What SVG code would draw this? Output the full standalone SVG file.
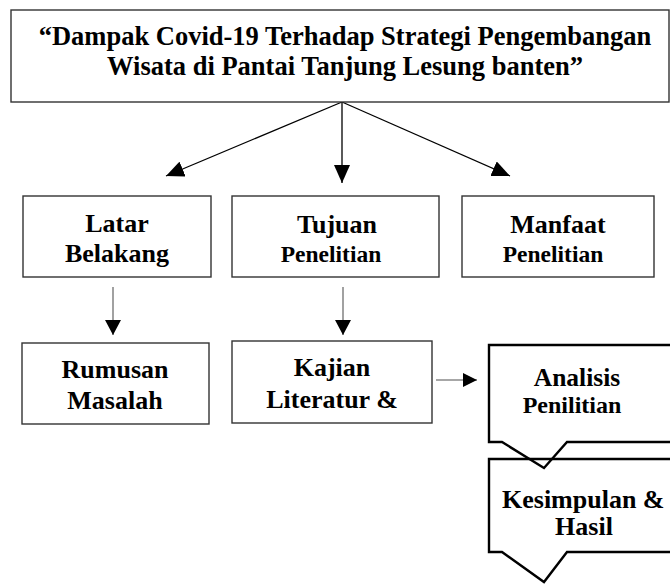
<svg xmlns="http://www.w3.org/2000/svg" width="670" height="584" viewBox="0 0 670 584">
<style>
  .t { font-family: "Liberation Serif", "Times New Roman", serif; font-weight: bold; fill: #000; text-anchor: middle; }
  .f26 { font-size: 26px; }
  .f24 { font-size: 23.5px; }
  .box { fill: #fff; stroke: #333; stroke-width: 1.4; }
  .call { fill: none; stroke: #000; stroke-width: 2.4; stroke-linejoin: miter; }
  .blk { stroke: #000; stroke-width: 1.3; fill: none; }
  .gry { stroke: #8a8a8a; stroke-width: 1.6; fill: none; }
</style>
<defs>
  <marker id="ahBig" viewBox="0 0 18 16" refX="18" refY="8" markerWidth="18" markerHeight="16" markerUnits="userSpaceOnUse" orient="auto">
    <path d="M0,0 L18,8 L0,16 z" fill="#000"/>
  </marker>
  <marker id="ahSm" viewBox="0 0 15 16" refX="15" refY="8" markerWidth="15" markerHeight="16" markerUnits="userSpaceOnUse" orient="auto">
    <path d="M0,0 L15,8 L0,16 z" fill="#000"/>
  </marker>
  <marker id="ahH" viewBox="0 0 14 14" refX="14" refY="7" markerWidth="14" markerHeight="14" markerUnits="userSpaceOnUse" orient="auto">
    <path d="M0,0 L14,7 L0,14 z" fill="#000"/>
  </marker>
</defs>
<rect width="670" height="584" fill="#fff"/>

<g id="connectors">
  <line class="blk" x1="342" y1="102" x2="166" y2="176" marker-end="url(#ahBig)"/>
  <line class="blk" x1="342" y1="102" x2="342" y2="183" marker-end="url(#ahBig)"/>
  <line class="blk" x1="342" y1="102" x2="510" y2="176" marker-end="url(#ahBig)"/>
  <line class="gry" x1="113" y1="287" x2="113" y2="335" marker-end="url(#ahSm)"/>
  <line class="gry" x1="343" y1="287" x2="343" y2="335" marker-end="url(#ahSm)"/>
  <line class="gry" x1="436" y1="380" x2="477" y2="380" marker-end="url(#ahH)"/>
</g>

<g id="title">
  <rect class="box" x="11" y="10" width="658" height="92"/>
  <text class="t" x="345" y="45" font-size="26.5">“Dampak Covid-19 Terhadap Strategi Pengembangan</text>
  <text class="t" x="345" y="75" font-size="26.5">Wisata di Pantai Tanjung Lesung banten”</text>
</g>

<g id="latar">
  <rect class="box" x="23" y="196" width="188" height="81"/>
  <text class="t f26" x="117" y="232">Latar</text>
  <text class="t f26" x="117" y="262">Belakang</text>
</g>

<g id="tujuan">
  <rect class="box" x="232" y="196" width="207" height="81"/>
  <text class="t f26" x="337" y="233">Tujuan</text>
  <text class="t f24" x="331" y="262">Penelitian</text>
</g>

<g id="manfaat">
  <rect class="box" x="462" y="196" width="192" height="81"/>
  <text class="t f26" x="558" y="233">Manfaat</text>
  <text class="t f24" x="553" y="262">Penelitian</text>
</g>

<g id="rumusan">
  <rect class="box" x="22" y="343" width="187" height="81"/>
  <text class="t f26" x="115" y="378">Rumusan</text>
  <text class="t f26" x="115" y="409">Masalah</text>
</g>

<g id="kajian">
  <rect class="box" x="232" y="341" width="200" height="82"/>
  <text class="t f26" x="332" y="376">Kajian</text>
  <text class="t f26" x="332" y="408">Literatur &amp;</text>
</g>

<g id="kesimpulan">
  <path class="call" d="M489,459 H673 V552 H567 L544,582 L502,552 H489 Z"/>
  <text class="t f26" x="502" y="508" style="text-anchor:start">Kesimpulan &amp;</text>
  <text class="t f26" x="584" y="535">Hasil</text>
</g>

<g id="analisis">
  <path class="call" d="M489,345 H673 V442 H567 L544,468 L502,442 H489 Z"/>
  <text class="t" x="577" y="386" font-size="25.5">Analisis</text>
  <text class="t" x="572" y="413" font-size="24">Penilitian</text>
</g>
</svg>
